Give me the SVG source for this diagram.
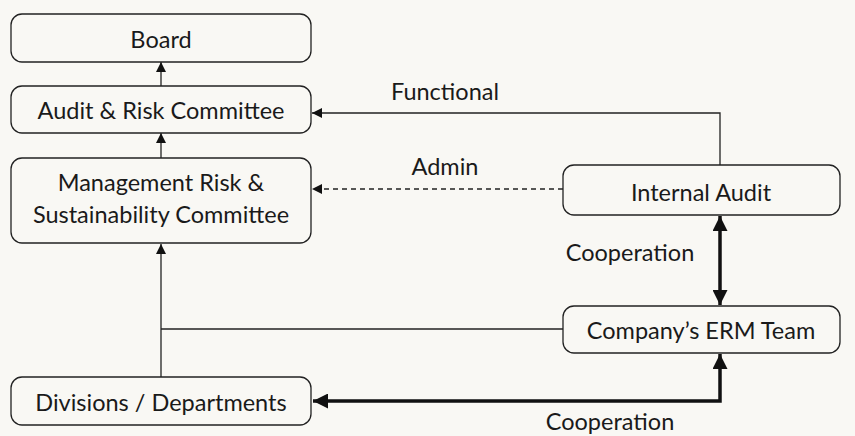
<svg xmlns="http://www.w3.org/2000/svg" width="855" height="436" viewBox="0 0 855 436">
<style>
.bg{fill:#f9f8f4}
.box{fill:#f9f8f4;stroke:#222;stroke-width:1.3}
.t{font-family:Lato,"Noto Sans",sans-serif;font-size:23.5px;fill:#1a1a1a;text-anchor:middle}
.thin{fill:none;stroke:#222;stroke-width:1.3}
.dash{stroke-dasharray:5 4}
.thick{fill:none;stroke:#111;stroke-width:3.5}
</style>
<defs>
<marker id="ah" viewBox="0 0 10 10" refX="10" refY="5" markerWidth="10" markerHeight="10" markerUnits="userSpaceOnUse" orient="auto-start-reverse"><path d="M0,0 L10,5 L0,10 z" fill="#111"/></marker>
<marker id="ahb" viewBox="0 0 10 10" refX="10" refY="5" markerWidth="15" markerHeight="15" markerUnits="userSpaceOnUse" orient="auto-start-reverse"><path d="M0,0 L10,5 L0,10 z" fill="#111"/></marker>
</defs>
<rect class="bg" width="855" height="436"/>
<g id="connectors">
<path class="thin" d="M161,86 L161,62" marker-end="url(#ah)"/>
<path class="thin" d="M161,158 L161,133" marker-end="url(#ah)"/>
<path class="thin" d="M720,165 L720,113 L312,113" marker-end="url(#ah)"/>
<path class="thin dash" d="M563,189 L312,189" marker-end="url(#ah)"/>
<path class="thin" d="M161,377 L161,244" marker-end="url(#ah)"/>
<path class="thin" d="M563,329 L161,329"/>
<path class="thick" d="M720,216 L720,305" marker-start="url(#ahb)" marker-end="url(#ahb)"/>
<path class="thick" d="M720,354 L720,401 L313,401" marker-start="url(#ahb)" marker-end="url(#ahb)"/>
<text class="t" x="445" y="100">Functional</text>
<text class="t" x="445" y="175">Admin</text>
<text class="t" x="630" y="261">Cooperation</text>
<text class="t" x="610" y="430">Cooperation</text>
</g>
<g id="board"><rect class="box" x="11" y="14" width="300" height="48" rx="11"/><text class="t" x="161" y="48">Board</text></g>
<g id="audit-risk"><rect class="box" x="11" y="86" width="300" height="47" rx="11"/><text class="t" x="161" y="119">Audit &amp; Risk Committee</text></g>
<g id="mgmt"><rect class="box" x="11" y="158" width="300" height="85" rx="11"/><text class="t" x="161" y="191">Management Risk &amp;</text><text class="t" x="161" y="223">Sustainability Committee</text></g>
<g id="divisions"><rect class="box" x="11" y="377" width="300" height="48" rx="11"/><text class="t" x="161" y="411">Divisions / Departments</text></g>
<g id="internal-audit"><rect class="box" x="563" y="165" width="277" height="50" rx="11"/><text class="t" x="701" y="201">Internal Audit</text></g>
<g id="erm"><rect class="box" x="563" y="306" width="277" height="47" rx="11"/><text class="t" x="701" y="339">Company’s ERM Team</text></g>
</svg>
